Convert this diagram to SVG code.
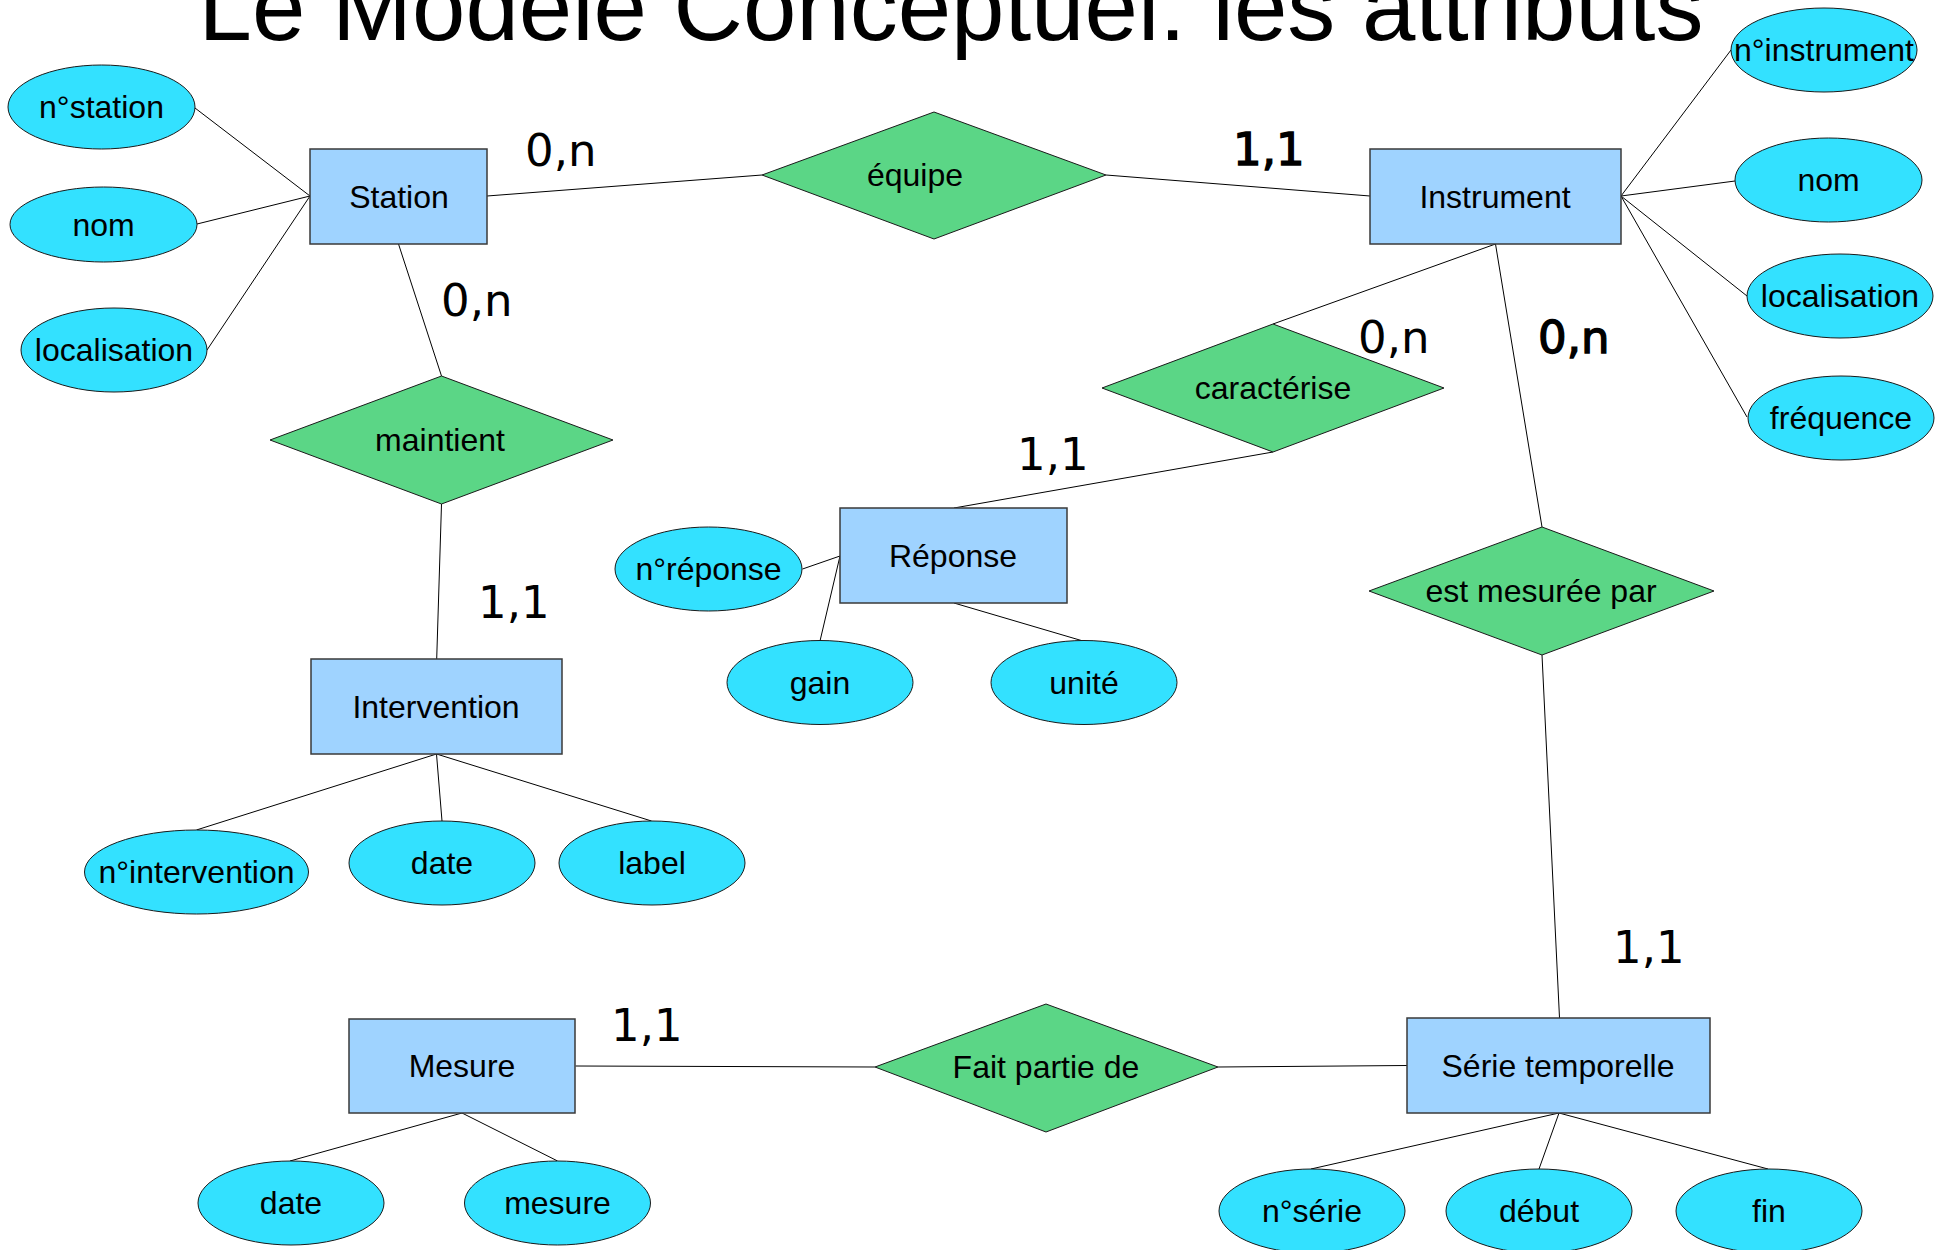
<svg xmlns="http://www.w3.org/2000/svg" width="1948" height="1250" viewBox="0 0 1948 1250">
  <style>
    .bg { fill: #ffffff; }
    .title { font-family: "Liberation Sans", Arial, sans-serif; font-size: 96px; fill: #000; }
    .entity rect { fill: #9fd3ff; stroke: #3a3a3a; stroke-width: 1.5; }
    .attr ellipse { fill: #33e1ff; stroke: #1a1a1a; stroke-width: 1; }
    .rel polygon { fill: #5bd686; stroke: #1a1a1a; stroke-width: 1; }
    .lbl { font-family: "Liberation Sans", Arial, sans-serif; font-size: 32px; fill: #000; text-anchor: middle; }
    .card { font-family: "DejaVu Sans", sans-serif; font-size: 45px; fill: #000; }
    /* heavier strokes on the same glyph widths */
    .card.b { stroke: #000; stroke-width: 1.4; }
    #connectors line { stroke: #000; stroke-width: 1; fill: none; }
  </style>

  <rect class="bg" x="0" y="0" width="1948" height="1250"/>

  <text class="title" x="951" y="40" text-anchor="middle">Le Modèle Conceptuel: les attributs</text>

  <!-- links between entities, relations and attributes -->
  <g id="connectors">
    <!-- Station -->
    <line x1="195" y1="108" x2="310" y2="196"/>
    <line x1="197" y1="224" x2="310" y2="196"/>
    <line x1="207" y1="350" x2="310" y2="196"/>
    <line x1="487" y1="196" x2="762" y2="175"/>
    <line x1="398.5" y1="244" x2="441.5" y2="376"/>
    <!-- Instrument -->
    <line x1="1106" y1="175" x2="1370" y2="196"/>
    <line x1="1621" y1="196" x2="1731" y2="50"/>
    <line x1="1621" y1="196" x2="1735" y2="181"/>
    <line x1="1621" y1="196" x2="1747" y2="296"/>
    <line x1="1621" y1="196" x2="1747" y2="417"/>
    <line x1="1495.5" y1="244" x2="1273" y2="324"/>
    <line x1="1495.5" y1="244" x2="1542" y2="527"/>
    <!-- Réponse -->
    <line x1="1273" y1="452" x2="954" y2="508"/>
    <line x1="802.5" y1="569" x2="840" y2="556"/>
    <line x1="820" y1="641" x2="840" y2="556"/>
    <line x1="954" y1="603" x2="1083" y2="641"/>
    <!-- Intervention -->
    <line x1="441.5" y1="504" x2="436.7" y2="659"/>
    <line x1="436.5" y1="754" x2="196.4" y2="830"/>
    <line x1="436.5" y1="754" x2="442" y2="821"/>
    <line x1="436.5" y1="754" x2="651.5" y2="821"/>
    <!-- Série temporelle -->
    <line x1="1542" y1="655" x2="1559.5" y2="1018"/>
    <line x1="1218" y1="1067" x2="1407" y2="1065.5"/>
    <line x1="1559" y1="1113" x2="1311" y2="1169"/>
    <line x1="1559" y1="1113" x2="1539" y2="1169"/>
    <line x1="1559" y1="1113" x2="1768" y2="1169"/>
    <!-- Mesure -->
    <line x1="575.5" y1="1066" x2="875" y2="1067"/>
    <line x1="462" y1="1113" x2="290" y2="1161"/>
    <line x1="462" y1="1113" x2="557.6" y2="1161"/>
  </g>

  <!-- Entities -->
  <g id="station" class="entity">
    <rect x="310" y="149" width="177" height="95"/>
    <text class="lbl" x="399" y="208">Station</text>
  </g>
  <g id="instrument" class="entity">
    <rect x="1370" y="149" width="251" height="95"/>
    <text class="lbl" x="1495" y="208">Instrument</text>
  </g>
  <g id="reponse" class="entity">
    <rect x="840" y="508" width="227" height="95"/>
    <text class="lbl" x="953" y="567">Réponse</text>
  </g>
  <g id="intervention" class="entity">
    <rect x="311" y="659" width="251" height="95"/>
    <text class="lbl" x="436" y="718">Intervention</text>
  </g>
  <g id="mesure" class="entity">
    <rect x="349" y="1019" width="226" height="94"/>
    <text class="lbl" x="462" y="1077">Mesure</text>
  </g>
  <g id="serie-temporelle" class="entity">
    <rect x="1407" y="1018" width="303" height="95"/>
    <text class="lbl" x="1558" y="1077">Série temporelle</text>
  </g>

  <!-- Relations -->
  <g id="equipe" class="rel">
    <polygon points="762,175 934,112 1106,175 934,239"/>
    <text class="lbl" x="915" y="186">équipe</text>
  </g>
  <g id="maintient" class="rel">
    <polygon points="270,440 441.5,376 613,440 441.5,504"/>
    <text class="lbl" x="440" y="451">maintient</text>
  </g>
  <g id="caracterise" class="rel">
    <polygon points="1102,388 1273,324 1444,388 1273,452"/>
    <text class="lbl" x="1273" y="399">caractérise</text>
  </g>
  <g id="est-mesuree-par" class="rel">
    <polygon points="1369,591 1542,527 1714,591 1542,655"/>
    <text class="lbl" x="1541" y="602">est mesurée par</text>
  </g>
  <g id="fait-partie-de" class="rel">
    <polygon points="875,1067 1046,1004 1218,1067 1046,1132"/>
    <text class="lbl" x="1046" y="1078">Fait partie de</text>
  </g>

  <!-- Attributes -->
  <g id="attr-station-num" class="attr">
    <ellipse cx="101.5" cy="107" rx="93.5" ry="42"/>
    <text class="lbl" x="101.5" y="118">n°station</text>
  </g>
  <g id="attr-station-nom" class="attr">
    <ellipse cx="103.5" cy="224.5" rx="93.5" ry="37.5"/>
    <text class="lbl" x="103.5" y="235.5">nom</text>
  </g>
  <g id="attr-station-loc" class="attr">
    <ellipse cx="114" cy="350" rx="93" ry="42"/>
    <text class="lbl" x="114" y="361">localisation</text>
  </g>

  <g id="attr-instrument-num" class="attr">
    <ellipse cx="1824" cy="50" rx="93" ry="42"/>
    <text class="lbl" x="1824" y="61">n°instrument</text>
  </g>
  <g id="attr-instrument-nom" class="attr">
    <ellipse cx="1828.5" cy="180" rx="93.5" ry="42"/>
    <text class="lbl" x="1828.5" y="191">nom</text>
  </g>
  <g id="attr-instrument-loc" class="attr">
    <ellipse cx="1840" cy="296" rx="93" ry="42"/>
    <text class="lbl" x="1840" y="307">localisation</text>
  </g>
  <g id="attr-instrument-freq" class="attr">
    <ellipse cx="1841" cy="418" rx="93" ry="42"/>
    <text class="lbl" x="1841" y="429">fréquence</text>
  </g>

  <g id="attr-reponse-num" class="attr">
    <ellipse cx="708.5" cy="569" rx="93.5" ry="42"/>
    <text class="lbl" x="708.5" y="580">n°réponse</text>
  </g>
  <g id="attr-reponse-gain" class="attr">
    <ellipse cx="820" cy="682.5" rx="93" ry="42"/>
    <text class="lbl" x="820" y="693.5">gain</text>
  </g>
  <g id="attr-reponse-unite" class="attr">
    <ellipse cx="1084" cy="682.5" rx="93" ry="42"/>
    <text class="lbl" x="1084" y="693.5">unité</text>
  </g>

  <g id="attr-intervention-num" class="attr">
    <ellipse cx="196.5" cy="872" rx="112" ry="42"/>
    <text class="lbl" x="196.5" y="883">n°intervention</text>
  </g>
  <g id="attr-intervention-date" class="attr">
    <ellipse cx="442" cy="863" rx="93" ry="42"/>
    <text class="lbl" x="442" y="874">date</text>
  </g>
  <g id="attr-intervention-label" class="attr">
    <ellipse cx="652" cy="863" rx="93" ry="42"/>
    <text class="lbl" x="652" y="874">label</text>
  </g>

  <g id="attr-mesure-date" class="attr">
    <ellipse cx="291" cy="1203" rx="93" ry="42"/>
    <text class="lbl" x="291" y="1214">date</text>
  </g>
  <g id="attr-mesure-mesure" class="attr">
    <ellipse cx="557.5" cy="1203" rx="93" ry="42"/>
    <text class="lbl" x="557.5" y="1214">mesure</text>
  </g>

  <g id="attr-serie-num" class="attr">
    <ellipse cx="1312" cy="1211" rx="93" ry="42"/>
    <text class="lbl" x="1312" y="1222">n°série</text>
  </g>
  <g id="attr-serie-debut" class="attr">
    <ellipse cx="1539" cy="1211" rx="93" ry="42"/>
    <text class="lbl" x="1539" y="1222">début</text>
  </g>
  <g id="attr-serie-fin" class="attr">
    <ellipse cx="1769" cy="1211" rx="93" ry="42"/>
    <text class="lbl" x="1769" y="1222">fin</text>
  </g>

  <!-- Cardinalities -->
  <g id="cardinalities">
    <text class="card" x="525" y="166">0,n</text>
    <text class="card" x="441" y="316">0,n</text>
    <text class="card b" x="1233" y="165">1,1</text>
    <text class="card" x="1358" y="353">0,n</text>
    <text class="card b" x="1538" y="353">0,n</text>
    <text class="card" x="1017" y="470">1,1</text>
    <text class="card" x="478" y="618">1,1</text>
    <text class="card" x="1613" y="963">1,1</text>
    <text class="card" x="611" y="1041">1,1</text>
  </g>
</svg>
